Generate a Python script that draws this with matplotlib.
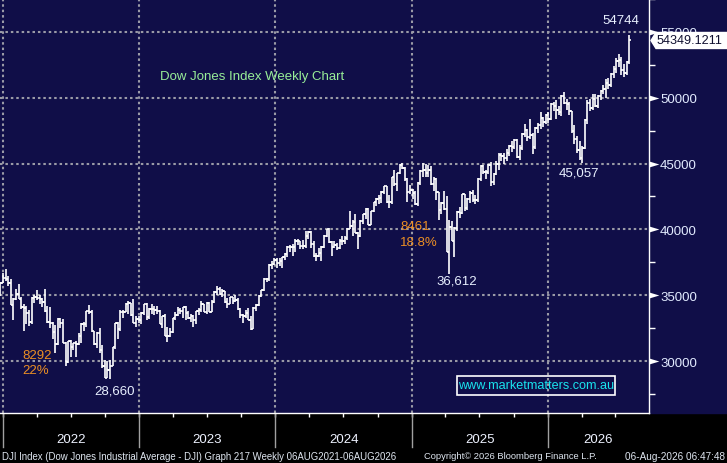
import numpy as np
import pandas as pd
import matplotlib
matplotlib.use("Agg")
import matplotlib.pyplot as plt
import matplotlib.dates as mdates
from matplotlib.patches import Rectangle, Polygon
from matplotlib.transforms import IdentityTransform, blended_transform_factory

plt.rcParams["font.family"] = ["Liberation Sans", "DejaVu Sans"]

# ---- weekly OHLC, DJI, first bar = week ending 24 Dec 2021 ----
opens_2021 = [35365, 35950]
highs_2021 = [36000, 36680]
lows_2021 = [34930, 35900]
closes_2021 = [35950, 36338]

opens_2022 = [36338, 36231, 35911, 34265, 34725, 35089, 34738, 34079, 34058, 33614, 32944, 34755, 34861,
              34818, 34721, 34451, 33811, 32977, 32899, 32197, 31262, 33213, 32900, 31393, 29888, 31501,
              31097, 31338, 31289, 31899, 32845, 32803, 33761, 33707, 32283, 31318, 32151, 30822, 29590,
              28725, 29297, 29635, 31083, 32861, 32403, 33748, 33746, 34347, 34430, 33477, 32920, 33204]
highs_2022 = [36952, 36450, 36200, 34800, 35500, 35825, 34900, 34300, 34200, 33900, 34850, 35000, 35372,
              35000, 34800, 35500, 34200, 34100, 32950, 32700, 33250, 33300, 33200, 31450, 31550, 31600,
              31400, 31500, 32100, 32900, 33000, 33800, 34281, 33900, 32300, 32200, 32500, 31200, 30100,
              30000, 30100, 31100, 32900, 33000, 33900, 33900, 34400, 34595, 34440, 34700, 33400, 33400]
lows_2022 = [36100, 35700, 34230, 33150, 34600, 34700, 33980, 32272, 32800, 32632, 32800, 34400, 34600,
             34300, 34100, 33750, 32900, 32500, 31700, 30635, 31200, 32500, 31390, 29653, 29880, 30300,
             30800, 30300, 31200, 31400, 32300, 32600, 33600, 32200, 31250, 31000, 30600, 29500, 28700,
             28700, 28660, 29600, 30900, 31700, 32300, 33300, 33700, 33600, 33400, 32900, 32600, 32900]
closes_2022 = [36231, 35911, 34265, 34725, 35089, 34738, 34079, 34058, 33614, 32944, 34755, 34861, 34818,
               34721, 34451, 33811, 32977, 32899, 32197, 31262, 33213, 32900, 31393, 29888, 31501, 31097,
               31338, 31289, 31899, 32845, 32803, 33761, 33707, 32283, 31318, 32151, 30822, 29590, 28725,
               29297, 29635, 31083, 32861, 32403, 33748, 33746, 34347, 34430, 33477, 32920, 33204, 33147]

opens_2023 = [33147, 33631, 34303, 33375, 33978, 33926, 33870, 33827, 32817, 33391, 31910, 31862, 32238,
              33274, 33485, 33886, 33809, 34098, 33675, 33301, 33427, 33093, 33763, 33877, 34299, 33727,
              34408, 33734, 34509, 35228, 35459, 35066, 35281, 34500, 34346, 34837, 34576, 34618, 33964,
              33508, 33407, 33670, 33127, 32418, 34061, 34283, 34947, 35390, 36245, 36248, 37306, 37385]
highs_2023 = [33700, 34350, 34400, 34000, 34300, 34200, 34150, 33850, 33400, 33600, 32600, 32500, 33300,
              33700, 34100, 34000, 34100, 34200, 33800, 33600, 33500, 33800, 34000, 34590, 34300, 34450,
              34500, 34630, 35300, 35680, 35600, 35500, 35300, 34800, 34900, 34900, 34980, 34800, 34000,
              33600, 33900, 34000, 33400, 34100, 34300, 35000, 35400, 36300, 36300, 37400, 37600, 37800]
lows_2023 = [32800, 33500, 33100, 33200, 33600, 33500, 33600, 32800, 32500, 31900, 31430, 31800, 32100,
             33100, 33400, 33600, 33300, 33100, 33200, 33000, 32600, 32800, 33500, 33700, 33700, 33600,
             33700, 33700, 34400, 35000, 35000, 34900, 34400, 34000, 34300, 34300, 34500, 33900, 33300,
             32900, 33300, 33100, 32330, 32400, 33800, 34200, 34900, 35300, 36000, 36100, 37000, 37300]
closes_2023 = [33631, 34303, 33375, 33978, 33926, 33870, 33827, 32817, 33391, 31910, 31862, 32238, 33274,
               33485, 33886, 33809, 34098, 33675, 33301, 33427, 33093, 33763, 33877, 34299, 33727, 34408,
               33734, 34509, 35228, 35459, 35066, 35281, 34500, 34346, 34837, 34576, 34618, 33964, 33508,
               33407, 33670, 33127, 32418, 34061, 34283, 34947, 35390, 36245, 36248, 37306, 37385, 37690]

opens_2024 = [37690, 37466, 37593, 37863, 38109, 38654, 38671, 38628, 39131, 39087, 38723, 38715, 39475,
              39807, 38904, 37983, 37986, 38240, 38676, 39513, 40004, 39070, 38686, 38799, 38589, 39150,
              39119, 39376, 40001, 40288, 40589, 39737, 39498, 40660, 41175, 41563, 40345, 41394, 42063,
              42313, 42352, 42864, 43276, 42114, 42052, 43989, 43445, 44297, 44911, 44643, 43828, 42840]
highs_2024 = [37800, 37800, 37900, 38200, 38700, 38800, 38900, 39300, 39300, 39100, 39200, 39900, 39890,
              39850, 39100, 38200, 38600, 38700, 39600, 40050, 40100, 39100, 39100, 39000, 39300, 39500,
              39500, 40100, 41400, 40700, 41200, 39800, 40700, 41200, 41600, 41600, 41400, 42100, 42400,
              42600, 42900, 43300, 43300, 42600, 44000, 44500, 44300, 45000, 45070, 44700, 43900, 43400]
lows_2024 = [37100, 37200, 37100, 37700, 37900, 38300, 38000, 38300, 38800, 38500, 38500, 38600, 39300,
             38600, 37900, 37600, 37900, 37600, 38600, 39400, 39000, 38000, 38600, 38400, 38500, 38800,
             38900, 39200, 40000, 39500, 39700, 38500, 39400, 40400, 40800, 40300, 40300, 41300, 41800,
             41900, 42000, 42700, 42000, 41600, 41900, 43300, 42900, 44200, 44600, 43700, 42100, 42700]
closes_2024 = [37466, 37593, 37863, 38109, 38654, 38671, 38628, 39131, 39087, 38723, 38715, 39475, 39807,
               38904, 37983, 37986, 38240, 38676, 39513, 40004, 39070, 38686, 38799, 38589, 39150, 39119,
               39376, 40001, 40288, 40589, 39737, 39498, 40660, 41175, 41563, 40345, 41394, 42063, 42313,
               42352, 42864, 43276, 42114, 42052, 43989, 43445, 44297, 44911, 44643, 43828, 42840, 42992]

opens_2025 = [42992, 42732, 41938, 43488, 44424, 44545, 44303, 44546, 43428, 43841, 42802, 41488, 41985,
              41583, 38315, 40213, 39142, 40114, 41317, 41249, 42655, 41603, 42270, 42763, 42197, 42206,
              43819, 44829, 44372, 44342, 44902, 43589, 44176, 44946, 45632, 45545, 45401, 45834, 46315,
              46247, 46758, 45480, 46191, 47207, 47563, 46987, 47147, 46245, 47716, 47955, 48458, 48134]
highs_2025 = [43100, 42900, 43600, 44500, 45050, 45000, 44900, 44800, 44000, 43900, 42850, 42100, 42900,
              42500, 40700, 40600, 40200, 41400, 41700, 42700, 42700, 42400, 42900, 43000, 42600, 43900,
              44900, 44900, 44500, 45000, 45100, 44300, 45200, 45800, 45800, 45800, 46100, 46400, 46700,
              46900, 46900, 46400, 47300, 48000, 47600, 48400, 47300, 47800, 48100, 48900, 48500, 48800]
lows_2025 = [42300, 41850, 41800, 43400, 44000, 44000, 44000, 43400, 42900, 42200, 40700, 41200, 41500,
             38300, 36612, 39100, 37900, 39900, 40900, 41200, 41400, 41500, 42000, 42100, 41900, 42100,
             43700, 44200, 43800, 44200, 43300, 43400, 44100, 44500, 45200, 45000, 45200, 45600, 45900,
             46100, 45400, 45300, 46000, 47000, 46700, 46900, 45700, 46100, 47300, 47600, 47800, 48000]
closes_2025 = [42732, 41938, 43488, 44424, 44545, 44303, 44546, 43428, 43841, 42802, 41488, 41985, 41583,
               38315, 40213, 39142, 40114, 41317, 41249, 42655, 41603, 42270, 42763, 42197, 42206, 43819,
               44829, 44372, 44342, 44902, 43589, 44176, 44946, 45632, 45545, 45401, 45834, 46315, 46247,
               46758, 45480, 46191, 47207, 47563, 46987, 47147, 46245, 47716, 47955, 48458, 48134, 48711]

opens_2026 = [48711, 48382, 49504, 49360, 49098, 48892, 50115, 49620, 49500, 48977, 47500, 46900, 46000,
              45400, 46200, 48300, 49600, 49200, 49900, 49400, 50100, 50500, 50700, 51100, 51000, 51800,
              52200, 52800, 52900, 52100, 51900, 52700]
highs_2026 = [48900, 49600, 49700, 49800, 49400, 50200, 50455, 49900, 49700, 49000, 47900, 47100, 46700,
              46300, 48400, 49800, 49900, 50300, 50300, 50200, 50600, 51000, 51400, 51500, 51900, 52400,
              53000, 53300, 53100, 52600, 52800, 54744]
lows_2026 = [48100, 48300, 49000, 48400, 48700, 48600, 49500, 49100, 48700, 47300, 46500, 45800, 45300,
             45057, 46100, 48000, 49000, 49100, 49300, 49200, 49800, 50300, 50000, 50700, 50800, 51500,
             51900, 52300, 51700, 51600, 51700, 52600]
closes_2026 = [48382, 49504, 49360, 49098, 48892, 50115, 49620, 49500, 48977, 47500, 46900, 46000, 45400,
               46200, 48300, 49600, 49200, 49900, 49400, 50100, 50500, 50700, 51100, 51000, 51800, 52200,
               52800, 52900, 52100, 51900, 52700, 54349]

opens = np.array(opens_2021 + opens_2022 + opens_2023 + opens_2024 + opens_2025 + opens_2026)
highs = np.array(highs_2021 + highs_2022 + highs_2023 + highs_2024 + highs_2025 + highs_2026)
lows = np.array(lows_2021 + lows_2022 + lows_2023 + lows_2024 + lows_2025 + lows_2026)
closes = np.array(closes_2021 + closes_2022 + closes_2023 + closes_2024 + closes_2025 + closes_2026)
dates = pd.date_range("2021-12-24", periods=len(closes), freq="W-FRI")

last_price = "54349.1211"
year_labels = ["2022", "2023", "2024", "2025", "2026"]
price_ticks = [30000, 35000, 40000, 45000, 50000, 55000]

NAVY = "#100e48"
W, H = 727, 464
AX_R, AX_B = 649, 414   # plot area right / bottom edge in px


def fpos(x, y):
    return x / W, 1 - y / H


fig = plt.figure(figsize=(W / 100, H / 100), dpi=100, facecolor="black")
fig.patches.append(Rectangle(fpos(AX_R, AX_B), 1 - AX_R / W, AX_B / H, transform=fig.transFigure,
                             color=NAVY, zorder=-1))
ax = fig.add_axes([0, 1 - AX_B / H, AX_R / W, AX_B / H], facecolor=NAVY)

x = mdates.date2num(dates)
ax.vlines(x, lows, highs, color="white", lw=1.2, zorder=3)
ax.hlines(opens, x - 4, x, color="white", lw=1.2, zorder=3)
ax.hlines(closes, x, x + 4, color="white", lw=1.2, zorder=3)

ax.set_xlim(mdates.date2num(pd.Timestamp("2021-12-23")), mdates.date2num(pd.Timestamp("2026-09-29")))
ax.set_ylim(26050, 57320)

grid_kw = dict(color="#9a9aa6", lw=1.5, ls=(0, (1.2, 1.4)), zorder=1)
for p in price_ticks:
    ax.axhline(p, **grid_kw)
year_starts = [mdates.date2num(pd.Timestamp(f"{y}-01-01")) for y in year_labels]
for d in year_starts:
    ax.axvline(d, **grid_kw)

for side in ("top", "left"):
    ax.spines[side].set_visible(False)
for side in ("right", "bottom"):
    ax.spines[side].set_color("white")
    ax.spines[side].set_linewidth(1.0)

# x axis: quarter ticks, long year separators, centred year labels
quarters = pd.date_range("2022-01-01", "2026-07-01", freq="QS")
ax.set_xticks(mdates.date2num(quarters))
ax.set_xticklabels([])
ax.tick_params(axis="x", colors="white", length=3, width=1, direction="out")
bt = blended_transform_factory(ax.transData, ax.transAxes)
x0, x1 = ax.get_xlim()
for i, d in enumerate(year_starts):
    ax.plot([d, d], [0, -34 / AX_B], transform=bt, color="#a0a0a0", lw=1, clip_on=False)
    right = year_starts[i + 1] if i + 1 < len(year_starts) else x1
    mid = (max(d, x0) + min(right, x1)) / 2
    ax.text(mid, -26 / AX_B, year_labels[i], transform=bt, ha="center", va="center",
            color="#eef2ff", fontsize=9.5)

# y axis on the right with arrow markers
ax.yaxis.tick_right()
ax.set_yticks(price_ticks)
ax.set_yticklabels([str(p) for p in price_ticks])
ax.set_yticks([p + 2500 for p in [25000] + price_ticks], minor=True)
ax.tick_params(axis="y", which="major", length=0, pad=8, labelsize=9.5, labelcolor="#e2ebff")
ax.tick_params(axis="y", which="minor", length=4, width=1, color="white", direction="out")
bt_y = blended_transform_factory(ax.transAxes, ax.transData)
arrow = [(-1, -0.6), (1, 0), (-1, 0.6)]
ax.plot([1 + 5 / AX_R] * len(price_ticks), price_ticks, transform=bt_y, ls="none", marker=arrow,
        markersize=7, color="white", markeredgewidth=0, clip_on=False, zorder=5)

# last price flag
fig.canvas.draw()
yl = ax.transData.transform((x1, closes[-1]))[1]
flag = Polygon([(651, yl), (656, yl + 8), (727, yl + 8), (727, yl - 8), (656, yl - 8)], closed=True,
               transform=IdentityTransform(), facecolor="white", edgecolor="white", zorder=6)
fig.add_artist(flag)
fig.text(657 / W, yl / H, last_price, ha="left", va="center", color="#101030", fontsize=9.1, zorder=7)

# annotations
WHITE_TXT = "#e8f0ff"
ORANGE = "#ec8f24"
fig.text(*fpos(602, 21), "54744", color=WHITE_TXT, fontsize=9.5, va="center")
fig.text(*fpos(160, 77), "Dow Jones Index Weekly Chart", color="#98ee98", fontsize=9.5, va="center")
fig.text(*fpos(22, 356), "8292", color=ORANGE, fontsize=9.5, va="center")
fig.text(*fpos(22, 371.5), "22%", color=ORANGE, fontsize=9.5, va="center")
fig.text(*fpos(94, 391.5), "28,660", color=WHITE_TXT, fontsize=9.5, va="center")
fig.text(*fpos(400, 227.5), "8461", color=ORANGE, fontsize=9.5, va="center")
fig.text(*fpos(400, 243), "18.8%", color=ORANGE, fontsize=9.5, va="center")
fig.text(*fpos(436, 282), "36,612", color=WHITE_TXT, fontsize=9.5, va="center")
fig.text(*fpos(559, 174), "45,057", color=WHITE_TXT, fontsize=9.5, va="center")

bx0, by0 = fpos(457, 396)
bx1, by1 = fpos(615, 377)
fig.patches.append(Rectangle((bx0, by0), bx1 - bx0, by1 - by0, transform=fig.transFigure,
                             facecolor="none", edgecolor="white", lw=1.2, zorder=6))
fig.text((bx0 + bx1) / 2, (by0 + by1) / 2, "www.marketmatters.com.au", color="#19e4ee", fontsize=9.1,
         ha="center", va="center", zorder=7)

# footer: fit each piece into the width it takes in the reference
foot = dict(color="#dfe6f0", fontsize=7.2, va="center")
footer = [("DJI Index (Dow Jones Industrial Average - DJI) Graph 217 Weekly 06AUG2021-06AUG2026", 2, 392, "left"),
          ("Copyright\u00a9 2026 Bloomberg Finance L.P.", 424, 173, "left"),
          ("06-Aug-2026 06:47:48", 725, 104, "right")]
renderer = fig.canvas.get_renderer()
for s, fx, width, ha in footer:
    t = fig.text(*fpos(fx, 457), s, ha=ha, **foot)
    w = t.get_window_extent(renderer).width
    if w > width:
        t.set_fontsize(foot["fontsize"] * width / w)

fig.savefig("out.png", dpi=100, facecolor="black")
